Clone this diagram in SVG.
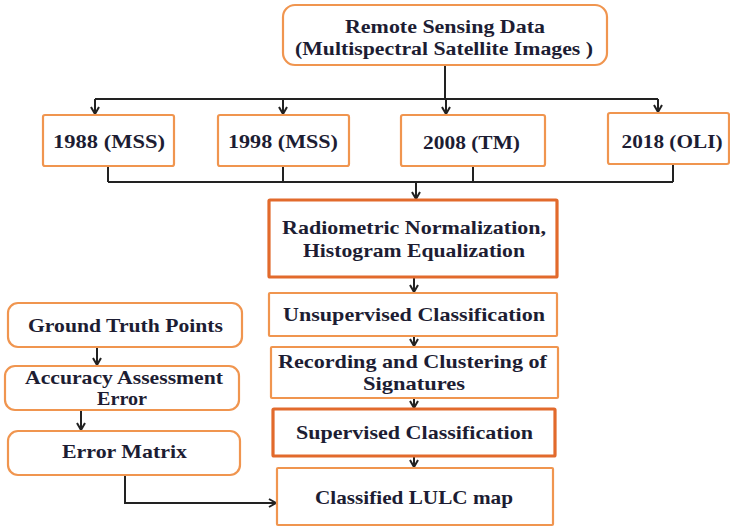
<svg xmlns="http://www.w3.org/2000/svg" width="730" height="529" viewBox="0 0 730 529">
<defs>
<marker id="arr" markerUnits="userSpaceOnUse" markerWidth="12" markerHeight="12" refX="8" refY="5" orient="auto">
<path d="M1,1 L8,5 L1,9" fill="none" stroke="#222" stroke-width="2"/>
</marker>
<style>
.box{fill:#fff;stroke:#F0954F;stroke-width:2.2}
.thick{fill:#fff;stroke:#E26A2C;stroke-width:3.2}
.t{font-family:"Liberation Serif","Times New Roman",serif;font-weight:bold;font-size:19px;fill:#1d1d33;text-anchor:middle}
.ln{fill:none;stroke:#222;stroke-width:2}
.ar{fill:none;stroke:#222;stroke-width:2;marker-end:url(#arr)}
</style>
</defs>
<rect width="730" height="529" fill="#fff"/>
<g id="connectors">
<path class="ln" d="M445,65 V99 M95,99 H658"/>
<path class="ar" d="M95,99 V114"/>
<path class="ar" d="M283,99 V114"/>
<path class="ar" d="M446,99 V114"/>
<path class="ar" d="M658,99 V112"/>
<path class="ln" d="M108,166 V182 M283,166 V182 M473,166 V182 M673,164 V182 M108,182 H673"/>
<path class="ar" d="M416,182 V199"/>
<path class="ar" d="M414,277 V292"/>
<path class="ar" d="M414,336 V346"/>
<path class="ar" d="M414,398 V408"/>
<path class="ar" d="M414,456 V467"/>
<path class="ar" d="M97,347 V365"/>
<path class="ar" d="M81,410 V430"/>
<path class="ar" d="M125,475 V503 H276"/>
</g>
<g id="remote-sensing">
<rect class="box" x="283" y="5" width="324" height="60" rx="12"/>
<text class="t" x="445" y="33" textLength="200" lengthAdjust="spacingAndGlyphs">Remote Sensing Data</text>
<text class="t" x="444" y="55" textLength="298" lengthAdjust="spacingAndGlyphs">(Multispectral Satellite Images )</text>
</g>
<g id="y1988">
<rect class="box" x="43" y="115" width="131" height="51" rx="2"/>
<text class="t" x="109" y="148" textLength="112" lengthAdjust="spacingAndGlyphs">1988 (MSS)</text>
</g>
<g id="y1998">
<rect class="box" x="218" y="115" width="131" height="51" rx="2"/>
<text class="t" x="283" y="148" textLength="110" lengthAdjust="spacingAndGlyphs">1998 (MSS)</text>
</g>
<g id="y2008">
<rect class="box" x="401" y="115" width="144" height="51" rx="2"/>
<text class="t" x="471.5" y="149" textLength="97" lengthAdjust="spacingAndGlyphs">2008 (TM)</text>
</g>
<g id="y2018">
<rect class="box" x="608" y="113" width="121" height="51" rx="2"/>
<text class="t" x="672" y="148" textLength="101" lengthAdjust="spacingAndGlyphs">2018 (OLI)</text>
</g>
<g id="radiometric">
<rect class="thick" x="269" y="200" width="288" height="77" rx="1"/>
<text class="t" x="414" y="234" textLength="264" lengthAdjust="spacingAndGlyphs">Radiometric Normalization,</text>
<text class="t" x="414" y="257" textLength="222" lengthAdjust="spacingAndGlyphs">Histogram Equalization</text>
</g>
<g id="unsupervised">
<rect class="box" x="269" y="293" width="288" height="43" rx="1"/>
<text class="t" x="414" y="321" textLength="262" lengthAdjust="spacingAndGlyphs">Unsupervised Classification</text>
</g>
<g id="recording">
<rect class="box" x="271" y="347" width="287" height="51" rx="1"/>
<text class="t" x="412.5" y="368" textLength="269" lengthAdjust="spacingAndGlyphs">Recording and Clustering of</text>
<text class="t" x="414" y="390" textLength="102" lengthAdjust="spacingAndGlyphs">Signatures</text>
</g>
<g id="supervised">
<rect class="thick" x="273" y="409" width="282" height="47" rx="1"/>
<text class="t" x="414.5" y="439" textLength="237" lengthAdjust="spacingAndGlyphs">Supervised Classification</text>
</g>
<g id="classified">
<rect class="box" x="277" y="468" width="276" height="57" rx="1"/>
<text class="t" x="414" y="504" textLength="198" lengthAdjust="spacingAndGlyphs">Classified LULC map</text>
</g>
<g id="ground-truth">
<rect class="box" x="8" y="303" width="234" height="44" rx="10"/>
<text class="t" x="125.5" y="332" textLength="195" lengthAdjust="spacingAndGlyphs">Ground Truth Points</text>
</g>
<g id="accuracy">
<rect class="box" x="5" y="366" width="234" height="44" rx="10"/>
<text class="t" x="124" y="384" textLength="198" lengthAdjust="spacingAndGlyphs">Accuracy Assessment</text>
<text class="t" x="122" y="405" textLength="50" lengthAdjust="spacingAndGlyphs">Error</text>
</g>
<g id="error-matrix">
<rect class="box" x="8" y="431" width="232" height="44" rx="10"/>
<text class="t" x="124.5" y="458" textLength="125" lengthAdjust="spacingAndGlyphs">Error Matrix</text>
</g>
</svg>
